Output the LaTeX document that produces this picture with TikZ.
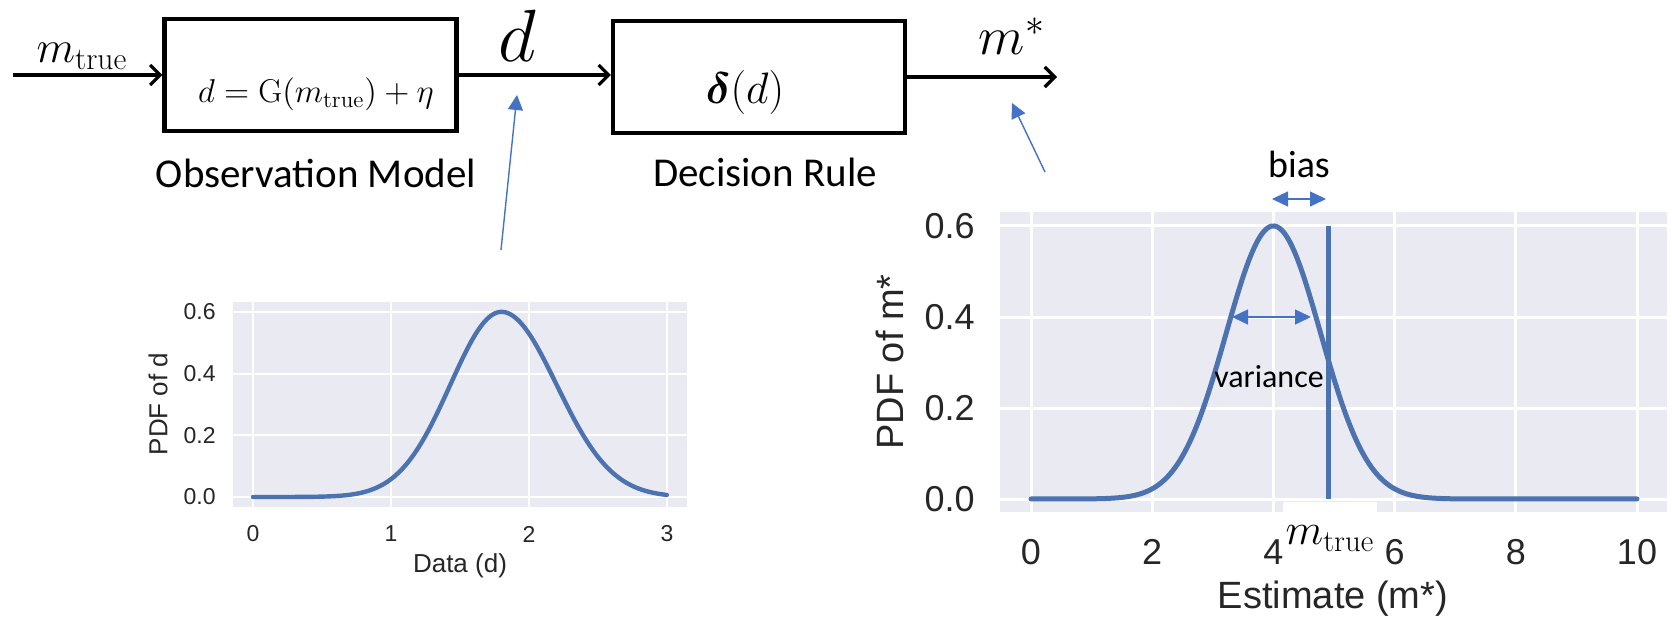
\RequirePackage{fix-cm}
\documentclass[tikz,border=0pt]{standalone}
\usepackage{amsmath,amssymb}
\usepackage{fontspec}
\newfontfamily\plotfont{Liberation Sans}
\newfontfamily\capfont{Carlito}
\usepackage{tikz}
\usetikzlibrary{arrows.meta, positioning, calc}
\definecolor{seablue}{HTML}{4C72B0}
\definecolor{markblue}{HTML}{4472C4}
\definecolor{panelbg}{HTML}{EAEAF2}
\definecolor{inkgray}{HTML}{262626}
\newcommand\setsz[1]{\fontsize{#1}{#1}\selectfont}

\begin{document}
\begin{tikzpicture}[x=0.5pt, y=-0.5pt,
  blockbox/.style={draw, line width=2.2pt, minimum width=146pt, minimum height=56pt, inner sep=0pt},
  flow/.style={line width=1.6pt, -{Straight Barb[length=5pt, width=10pt]}},
  pointer/.style={markblue, line width=0.7pt, -{Triangle[length=7.5pt, width=7.5pt]}},
  twohead/.style={markblue, line width=0.7pt, {Triangle[length=8pt, width=7.5pt]}-{Triangle[length=8pt, width=7.5pt]}},
  eqn/.style={anchor=base, inner sep=0pt},
  caption/.style={font={\capfont\setsz{20.5}}, anchor=base, inner sep=0pt},
  note/.style={font={\capfont\setsz{16}}, anchor=base, inner sep=0pt},
  gridline/.style={white, line width=1pt},
  curve/.style={seablue, line width=2.2pt, line cap=round},
  ticksm/.style={font={\plotfont\setsz{11.5}}, text=inkgray, inner sep=0pt},
  ticklg/.style={font={\plotfont\setsz{18}}, text=inkgray, inner sep=0pt}
]
\useasboundingbox (0,0) rectangle (1672,620);

% block diagram
\node[blockbox] (obs) at (310.5,75) {};
\node[blockbox] (dec) at (759,77) {};
\node[eqn, font=\setsz{16.5}] (obseq) at (316,103) {$d=\mathrm{G}(m_{\mathrm{true}})+\eta$};
\node[eqn, font=\setsz{22}] (deceq) at (745,104) {$\boldsymbol{\delta}(d)$};
\node[caption] (obscap) at (316,188) {Observation Model};
\node[caption] (deccap) at (765,187) {Decision Rule};
\node[eqn, font=\setsz{22.5}] (min) at (82,63) {$m_{\mathrm{true}}$};
\node[eqn, font=\setsz{37}] (dout) at (517,62) {$d$};
\node[eqn, font=\setsz{27}] (mout) at (1012,55) {$m^*$};
\coordinate (src) at (13,75);
\coordinate (sink) at (1057,77);
\draw[flow] (src) -- (src -| obs.west);
\draw[flow] (obs.east) -- (obs.east -| dec.west);
\draw[flow] (dec.east) -- (sink);

\coordinate (dtail) at (501,250);
\coordinate (dtip) at (517,95);
\coordinate (mtail) at (1045,172);
\coordinate (mtip) at (1012,103);
\draw[pointer] (dtail) -- (dtip);
\draw[pointer] (mtail) -- (mtip);

% left plot: PDF of d
\fill[panelbg] (233,302) rectangle (687,507);
\foreach \i in {0,...,3} {
  \draw[gridline] ({253+138*\i},302) -- ({253+138*\i},507);
  \node[ticksm] (dx\i) at ({253+138*\i},534) {\i};
}
\foreach \v/\t [count=\k] in {0/0.0,0.2/0.2,0.4/0.4,0.6/0.6} {
  \draw[gridline] (233,{497-308.5*\v}) -- (687,{497-308.5*\v});
  \node[ticksm, anchor=east] (dy\k) at (216,{497-308.5*\v}) {\t};
}
\draw[curve] plot[domain=0:3, samples=160]
  ({253+138*\x}, {497-185.1*exp(max(-9,-((\x-1.8)*(\x-1.8))/(2*((\x<1.8)?0.37:0.40)^2)))});
\node[ticksm, font={\plotfont\setsz{13}}] (dxlab) at (460,566) {Data (d)};
\node[ticksm, font={\plotfont\setsz{13}}, rotate=90] (dylab) at (158,404) {PDF of d};

% right plot: PDF of m*
\fill[panelbg] (1000,212) rectangle (1667,512);
\foreach \v in {0,2,...,10}
  \draw[gridline, line width=1.5pt] ({1031+60.6*\v},212) -- ({1031+60.6*\v},512);
\foreach \v/\t [count=\k] in {0/0.0,0.2/0.2,0.4/0.4,0.6/0.6} {
  \draw[gridline, line width=1.5pt] (1000,{499-455*\v}) -- (1667,{499-455*\v});
  \node[ticklg, anchor=east] (my\k) at (975,{499-455*\v}) {\t};
}
\node[eqn, fill=white, inner xsep=1.25pt, text height=21.5pt, font=\setsz{22}] (mtrue) at (1330,545) {$m_{\mathrm{true}}$};
\foreach \v in {0,2,...,10}
  \node[ticklg] (mx\v) at ({1031+60.6*\v},552) {\v};
\draw[curve, line width=2.5pt] plot[domain=0:10, samples=240]
  ({1031+60.6*\x}, {499-273*exp(max(-9,-((\x-4)*(\x-4))/1.2168))});
\draw[curve, line width=2.5pt, line cap=butt] (1328,499) -- (1328,226);
\node[ticklg, font={\plotfont\setsz{19}}] (mxlab) at (1333,599) {Estimate (m*)};
\node[ticklg, font={\plotfont\setsz{19}}, rotate=90] (mylab) at (890,362) {PDF of m*};

\coordinate (vleft) at (1232,317);
\coordinate (vright) at (1311,317);
\coordinate (bleft) at (1272,199);
\coordinate (bright) at (1326,199);
\draw[twohead] (vleft) -- (vright);
\draw[twohead] (bleft) -- (bright);
\node[note] (varlbl) at (1269,387) {variance};
\node[caption, font={\capfont\setsz{19}}] (biaslbl) at (1299,178) {bias};
\end{tikzpicture}
\end{document}
